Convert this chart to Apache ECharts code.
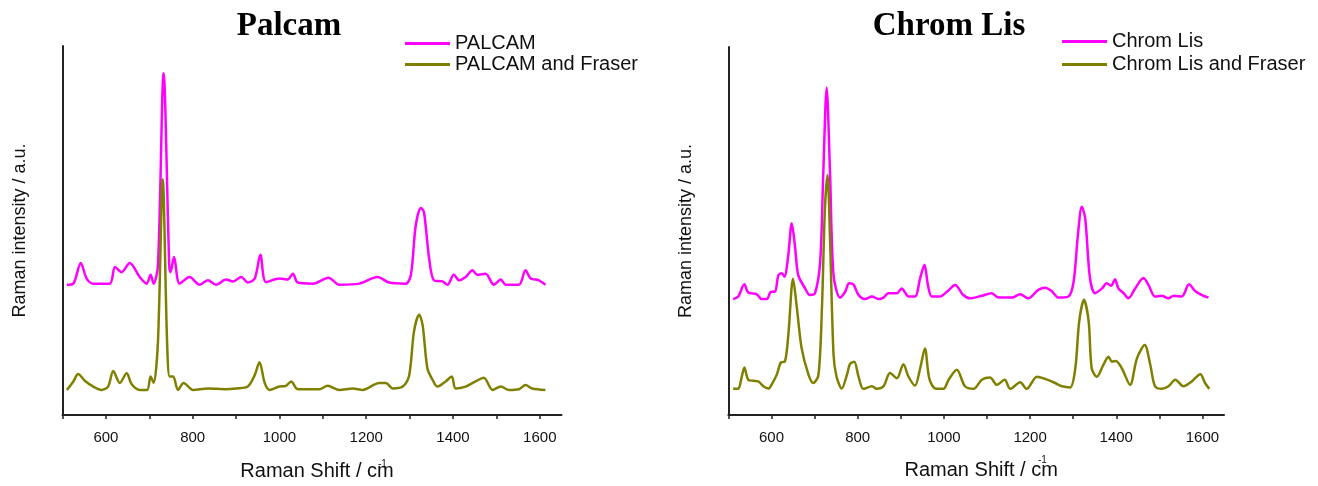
<!DOCTYPE html>
<html>
<head>
<meta charset="utf-8">
<script src="https://cdn.jsdelivr.net/npm/echarts@6/dist/echarts.min.js"></script>
<style>
  html, body { margin: 0; padding: 0; background: #fff; }
  #chart { width: 1318px; height: 486px; }
</style>
</head>
<body>
<div id="chart"></div>
<script>
// x-axis ticks (labels every 200, marks every 100)
const xTickLabels = [600, 800, 1000, 1200, 1400, 1600];
const xTickMarks = [500, 600, 700, 800, 900, 1000, 1100, 1200, 1300, 1400, 1500, 1600];

// Palcam panel
const palcamX = [510, 525, 542, 556, 571, 609, 621, 636, 655, 678, 694, 703, 710, 720, 733, 746, 749, 757, 770, 793, 816, 835, 854, 877, 893, 912, 927, 943, 956, 969, 1000, 1019, 1031, 1042, 1077, 1113, 1138, 1184, 1226, 1253, 1291, 1303, 1314, 1326, 1333, 1345, 1356, 1376, 1387, 1402, 1414, 1429, 1445, 1456, 1475, 1494, 1510, 1521, 1552, 1567, 1579, 1598, 1613];
const palcamY = [35.3, 35.6, 41.2, 36.9, 35.6, 35.6, 40.1, 38.7, 41.2, 37.4, 35.6, 38.0, 35.6, 40.5, 92.6, 40.5, 38.7, 42.8, 35.6, 37.4, 35.3, 36.5, 35.3, 36.7, 36.2, 37.4, 35.9, 37.0, 43.4, 36.0, 37.0, 36.7, 38.3, 35.9, 35.6, 37.2, 35.3, 35.6, 37.4, 35.9, 35.6, 38.0, 51.3, 56.1, 55.0, 42.4, 36.5, 36.2, 35.3, 38.0, 36.5, 37.4, 39.2, 38.0, 38.3, 35.3, 36.7, 35.3, 35.3, 39.2, 37.0, 36.5, 35.3];
const palcamFraserX = [510, 525, 536, 552, 571, 590, 605, 617, 632, 648, 659, 678, 695, 703, 710, 720, 731, 741, 747, 755, 766, 779, 801, 835, 877, 900, 927, 943, 954, 966, 977, 1000, 1015, 1027, 1042, 1092, 1111, 1138, 1169, 1192, 1230, 1245, 1261, 1284, 1299, 1310, 1322, 1330, 1341, 1353, 1364, 1383, 1397, 1406, 1429, 1452, 1471, 1491, 1510, 1529, 1552, 1567, 1582, 1613];
const palcamFraserY = [6.8, 9.1, 11.1, 9.2, 7.7, 6.8, 7.7, 11.9, 8.7, 11.3, 8.4, 6.8, 6.8, 10.4, 8.7, 19.9, 63.9, 19.9, 10.4, 10.4, 6.8, 8.7, 6.8, 7.2, 7.0, 7.2, 7.7, 10.8, 14.3, 8.7, 6.8, 7.7, 7.9, 9.1, 7.0, 7.0, 7.9, 6.8, 7.2, 6.8, 8.7, 8.7, 7.2, 7.7, 10.8, 22.6, 27.2, 24.3, 12.6, 9.5, 7.7, 9.1, 10.4, 7.2, 7.7, 9.1, 10.1, 6.8, 7.7, 6.8, 7.0, 8.1, 7.2, 6.8];

// Chrom Lis panel
const chromX = [511, 523, 537, 546, 566, 577, 589, 599, 608, 616, 624, 630, 639, 647, 655, 662, 678, 689, 701, 713, 720, 728, 736, 744, 759, 771, 780, 790, 802, 817, 833, 848, 860, 871, 891, 902, 918, 933, 945, 955, 963, 972, 991, 1007, 1026, 1045, 1061, 1088, 1111, 1127, 1158, 1177, 1196, 1219, 1235, 1250, 1266, 1289, 1301, 1311, 1320, 1328, 1339, 1351, 1367, 1378, 1388, 1397, 1405, 1417, 1428, 1444, 1463, 1475, 1490, 1506, 1521, 1533, 1552, 1569, 1583, 1599, 1614];
const chromY = [31.5, 32.2, 35.5, 33.3, 32.8, 31.5, 31.5, 33.5, 33.5, 38.0, 38.5, 37.6, 43.5, 52.1, 45.3, 38.0, 34.4, 32.6, 33.1, 41.7, 65.2, 88.9, 65.2, 38.0, 31.9, 33.5, 35.8, 35.5, 32.6, 31.5, 32.2, 31.5, 31.9, 33.1, 33.1, 34.4, 32.2, 32.2, 37.2, 40.8, 35.3, 32.2, 32.2, 33.5, 35.3, 32.6, 31.7, 32.4, 33.1, 31.9, 31.9, 32.8, 31.7, 34.0, 34.6, 33.7, 31.9, 32.2, 36.2, 48.9, 56.6, 53.4, 37.2, 33.1, 34.4, 35.8, 35.1, 36.9, 34.4, 33.1, 31.7, 34.4, 37.2, 35.3, 32.2, 32.4, 31.7, 32.4, 32.2, 35.5, 33.7, 32.6, 31.9];
const chromFraserX = [511, 523, 531, 537, 546, 558, 570, 581, 593, 600, 612, 622, 631, 639, 650, 659, 670, 686, 697, 709, 717, 724, 730, 736, 744, 751, 763, 775, 782, 792, 802, 813, 833, 844, 860, 875, 891, 906, 918, 933, 945, 956, 966, 980, 999, 1011, 1030, 1049, 1069, 1088, 1107, 1123, 1141, 1154, 1177, 1192, 1216, 1235, 1258, 1274, 1293, 1305, 1314, 1325, 1336, 1343, 1355, 1370, 1382, 1390, 1399, 1413, 1432, 1448, 1466, 1479, 1490, 1506, 1521, 1537, 1556, 1575, 1595, 1606, 1616];
const chromFraserY = [7.1, 7.2, 10.4, 12.9, 9.6, 9.3, 9.1, 7.8, 7.2, 8.2, 10.9, 14.3, 14.5, 21.7, 37.0, 29.0, 18.1, 10.9, 8.7, 10.9, 29.0, 56.2, 65.2, 47.1, 16.3, 10.4, 7.2, 10.9, 13.8, 14.5, 10.4, 7.1, 7.8, 7.1, 7.8, 11.4, 10.0, 13.8, 10.4, 8.0, 12.7, 18.1, 10.0, 7.2, 7.1, 9.6, 12.3, 7.8, 7.1, 9.6, 10.2, 8.2, 9.6, 7.1, 8.9, 7.1, 10.4, 9.8, 8.7, 7.8, 7.5, 12.7, 25.4, 31.3, 25.4, 12.7, 10.4, 13.6, 15.8, 14.5, 14.7, 12.7, 8.2, 15.4, 19.0, 13.6, 7.8, 7.1, 7.8, 9.6, 7.8, 9.1, 11.1, 8.7, 7.1];

const MAGENTA = '#ff00ff';
const OLIVE = '#808000';
const SANS = 'Liberation Sans';

function pairs(xs, ys) {
  return xs.map((x, i) => [x, ys[i]]);
}

function xAxisFor(gridIndex, gap) {
  return {
    gridIndex: gridIndex,
    type: 'value',
    min: 500,
    max: 1650,
    name: 'Raman Shift / cm',
    nameLocation: 'middle',
    nameGap: gap,
    nameTextStyle: { fontFamily: SANS, fontSize: 20, color: '#111', padding: [0, 0, 0, 10] },
    axisLine: { lineStyle: { color: '#222', width: 2 } },
    axisTick: { show: true, length: 4, lineStyle: { color: '#222', width: 1.5 }, customValues: xTickMarks },
    axisLabel: {
      fontFamily: SANS, fontSize: 15, color: '#111', margin: 15,
      customValues: xTickLabels,
      formatter: v => String(v)
    },
    splitLine: { show: false }
  };
}

function yAxisFor(gridIndex) {
  return {
    gridIndex: gridIndex,
    type: 'value',
    min: 0,
    max: 100,
    name: 'Raman intensity / a.u.',
    nameLocation: 'middle',
    nameGap: 33,
    nameTextStyle: { fontFamily: SANS, fontSize: 18, color: '#111' },
    axisLine: { show: true, lineStyle: { color: '#222', width: 2 } },
    axisTick: { show: false },
    axisLabel: { show: false },
    splitLine: { show: false }
  };
}

function spectrum(name, data, color, idx) {
  return {
    name: name,
    type: 'line',
    xAxisIndex: idx,
    yAxisIndex: idx,
    data: data,
    showSymbol: false,
    symbol: 'none',
    smooth: 0.3,
    lineStyle: { color: color, width: 2.5 },
    itemStyle: { color: color },
    animation: false
  };
}

function legendFor(names, left, top, rowHeight) {
  return {
    data: names,
    orient: 'vertical',
    left: left,
    top: top,
    icon: 'rect',
    itemWidth: 45,
    itemHeight: 3,
    itemGap: 0,
    padding: 0,
    textStyle: { fontFamily: SANS, fontSize: 20, color: '#111', lineHeight: rowHeight }
  };
}

function supText(x, y) {
  return { type: 'text', x: x, y: y, style: { text: '-1', fontFamily: SANS, fontSize: 10, fill: '#111', align: 'left', verticalAlign: 'middle' } };
}

const chart = echarts.init(document.getElementById('chart'));
chart.setOption({
  backgroundColor: '#fff',
  animation: false,
  graphic: [
    { type: 'text', x: 289, y: 26, style: { text: 'Palcam', fontFamily: 'Liberation Serif', fontWeight: 'bold', fontSize: 33, fill: '#000', align: 'center', verticalAlign: 'middle' } },
    { type: 'text', x: 949, y: 26, style: { text: 'Chrom Lis', fontFamily: 'Liberation Serif', fontWeight: 'bold', fontSize: 33, fill: '#000', align: 'center', verticalAlign: 'middle' } },
    supText(378, 464),
    supText(1038, 460)
  ],
  legend: [
    legendFor(['PALCAM', 'PALCAM and Fraser'], 405, 33, 21),
    legendFor(['Chrom Lis', 'Chrom Lis and Fraser'], 1062, 30, 23)
  ],
  grid: [
    { left: 62.5, top: 46, width: 499, height: 371 },
    { left: 728.4, top: 47, width: 495.6, height: 368 }
  ],
  xAxis: [xAxisFor(0, 46), xAxisFor(1, 45)],
  yAxis: [yAxisFor(0), yAxisFor(1)],
  series: [
    spectrum('PALCAM', pairs(palcamX, palcamY), MAGENTA, 0),
    spectrum('PALCAM and Fraser', pairs(palcamFraserX, palcamFraserY), OLIVE, 0),
    spectrum('Chrom Lis', pairs(chromX, chromY), MAGENTA, 1),
    spectrum('Chrom Lis and Fraser', pairs(chromFraserX, chromFraserY), OLIVE, 1)
  ]
});
</script>
</body>
</html>
